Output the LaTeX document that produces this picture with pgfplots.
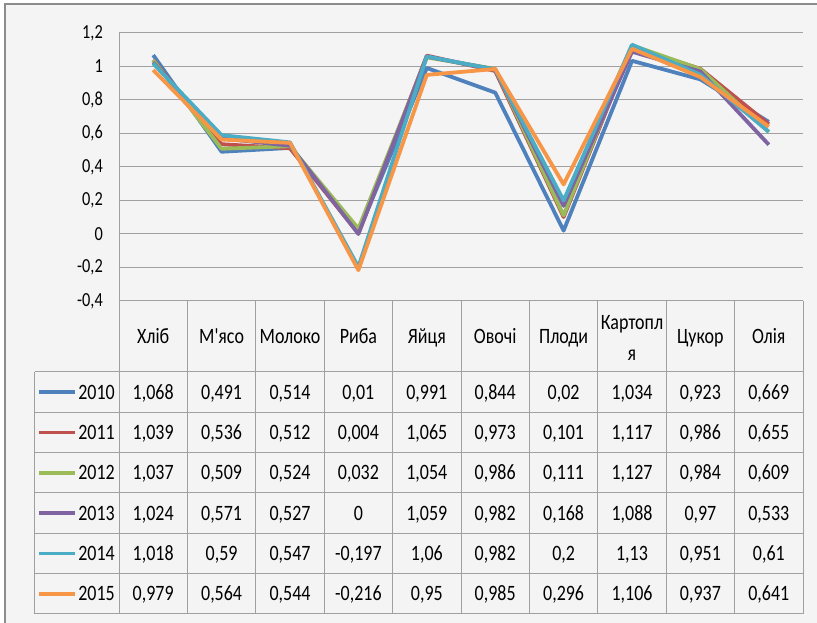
\documentclass[border=0pt]{standalone}
\usepackage{pgfplots}
\usepackage{pgfplotstable}
\pgfplotsset{compat=1.18}
\usepackage{fontspec}
\setmainfont{Carlito}[FakeStretch=0.82, Ligatures=TeXOff]

\definecolor{c2010}{HTML}{4F81BD}
\definecolor{c2011}{HTML}{C0504D}
\definecolor{c2012}{HTML}{9BBB59}
\definecolor{c2013}{HTML}{8064A2}
\definecolor{c2014}{HTML}{4BACC6}
\definecolor{c2015}{HTML}{F79646}
\definecolor{bgc}{HTML}{F4F4F4}
\definecolor{gridc}{HTML}{A0A0A0}
\definecolor{framec}{HTML}{8C8C8C}

\pgfkeys{/pgf/number format/.cd, use comma, fixed, precision=3, assume math mode=true}

% rows: categories, columns: years
\pgfplotstableread{
idx y2010 y2011 y2012 y2013 y2014 y2015
0 1.068 1.039 1.037 1.024 1.018 0.979
1 0.491 0.536 0.509 0.571 0.59 0.564
2 0.514 0.512 0.524 0.527 0.547 0.544
3 0.01 0.004 0.032 0 -0.197 -0.216
4 0.991 1.065 1.054 1.059 1.06 0.95
5 0.844 0.973 0.986 0.982 0.982 0.985
6 0.02 0.101 0.111 0.168 0.2 0.296
7 1.034 1.117 1.127 1.088 1.13 1.106
8 0.923 0.986 0.984 0.97 0.951 0.937
9 0.669 0.655 0.609 0.533 0.61 0.641
}\data

\begin{document}
\begin{tikzpicture}[x=1bp,y=1bp]
\fill[white] (-119,-322) rectangle (698,301);
\fill[bgc] (-114,-322) rectangle (698,297);
\draw[framec, line width=2bp] (-114,-322) -- (-114,297) -- (698,297);

\begin{axis}[
    at={(0,0)}, anchor=south west,
    x=68.4bp, y=167.5bp,
    xmin=-0.5, xmax=9.5,
    ymin=-0.4, ymax=1.2,
    ytick={-0.4,-0.2,0,0.2,0.4,0.6,0.8,1,1.2},
    xtick=\empty,
    ymajorgrids=true,
    grid style={gridc, line width=1bp},
    axis line style={draw=none},
    major tick length=0pt,
    yticklabel style={font=\fontsize{20}{22}\selectfont, inner sep=0pt, xshift=-16bp},
    every axis plot/.append style={line width=3.8bp, line join=round},
    clip=false,
]
\addplot[c2010] table[x=idx, y=y2010] {\data};
\addplot[c2011] table[x=idx, y=y2011] {\data};
\addplot[c2012] table[x=idx, y=y2012] {\data};
\addplot[c2013] table[x=idx, y=y2013] {\data};
\addplot[c2014] table[x=idx, y=y2014] {\data};
\addplot[c2015] table[x=idx, y=y2015] {\data};
\end{axis}

% data table under the chart
\begin{scope}[font=\fontsize{22}{26}\selectfont]
\draw[gridc, line width=1bp] (0,268) -- (0,-313);
\draw[gridc, line width=1bp] (-84,-71) -- (-84,-313);
\foreach \i in {1,...,10} \draw[gridc, line width=1bp] ({\i*68.4},0) -- ({\i*68.4},-313);
\foreach \k in {0,...,6} \draw[gridc, line width=1bp] (-84,{-71-\k*40.33}) -- (684,{-71-\k*40.33});

\foreach \n [count=\i from 0] in {Хліб,М'ясо,Молоко,Риба,Яйця,Овочі,Плоди,,Цукор,Олія}
  \node[anchor=base] at ({(\i+0.5)*68.4},-43) {\n};
\node[anchor=base] at ({7.5*68.4},-29) {Картопл};
\node[anchor=base] at ({7.5*68.4},-60) {я};

\foreach \yr [count=\k from 0] in {2010,2011,2012,2013,2014,2015} {
  \pgfmathsetmacro{\yc}{-71-20.17-\k*40.33}
  \draw[c\yr, line width=3.6bp] (-80,\yc) -- (-44,\yc);
  \node[anchor=base east, inner sep=0pt] at (-4,\yc-7) {\yr};
  \foreach \i in {0,...,9} {
    \pgfplotstablegetelem{\i}{y\yr}\of\data
    \node[anchor=base] at ({(\i+0.5)*68.4},\yc-7) {\pgfmathprintnumber{\pgfplotsretval}};
  }
}
\end{scope}

\pgfresetboundingbox
\path[use as bounding box] (-119,-322) rectangle (698,301);
\end{tikzpicture}
\end{document}
